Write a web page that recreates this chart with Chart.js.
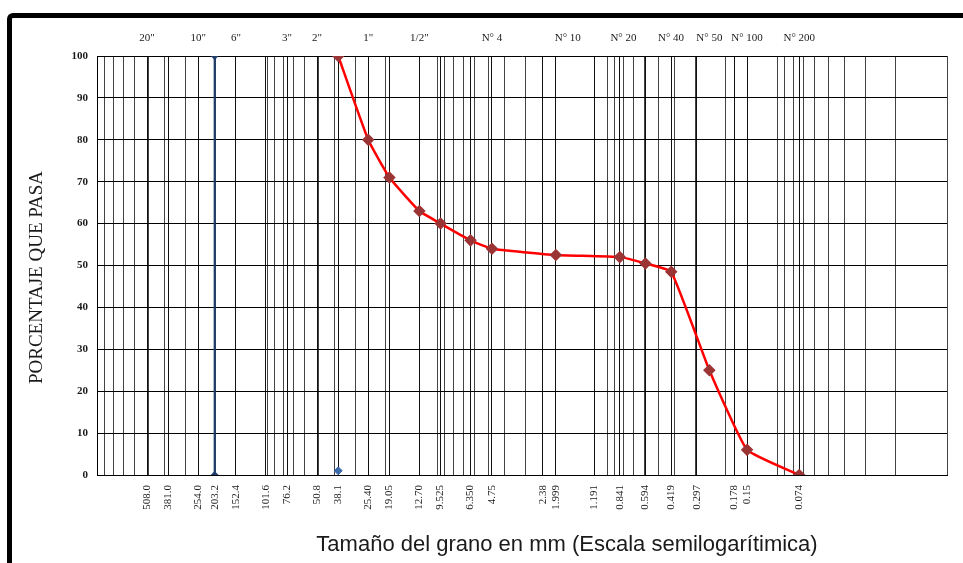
<!DOCTYPE html>
<html>
<head>
<meta charset="utf-8">
<script src="https://cdn.jsdelivr.net/npm/chart.js@4.4.1/dist/chart.umd.min.js"></script>
<style>
  body { margin: 0; background: #fff; overflow: hidden; }
  .marco { position: absolute; left: 7px; top: 13px; width: 1000px; height: 600px;
           border-top: 5px solid #000; border-left: 5px solid #000; border-top-left-radius: 6px; }
  canvas { position: absolute; left: 0; top: 0; }
</style>
</head>
<body>
<div class="marco"></div>
<canvas id="granulometria" width="963" height="563"></canvas>
<script>
// Curva granulometrica (tamaño en mm, porcentaje que pasa)
const tamanos = [38.1, 25.4, 19.05, 12.7, 9.525, 6.35, 4.75, 2.0, 0.841, 0.594, 0.419, 0.25, 0.15, 0.074];
const pasa = [100, 80, 71, 63, 60, 56, 54, 52.5, 52, 50.5, 48.5, 25, 6, 0];

// linea azul vertical y punto azul
const lineaAzulX = [203.2, 203.2];
const lineaAzulY = [0, 100];
const puntoAzulX = [38.1];
const puntoAzulY = [1];

// tamices abajo (valor y texto)
const tamicesMm = [508, 381, 254, 203.2, 152.4, 101.6, 76.2, 50.8, 38.1, 25.4, 19.05, 12.7, 9.525, 6.35, 4.75, 2.38, 1.999, 1.191, 0.841, 0.594, 0.419, 0.297, 0.178, 0.15, 0.074];
const tamicesTexto = ["508.0", "381.0", "254.0", "203.2", "152.4", "101.6", "76.2", "50.8", "38.1", "25.40", "19.05", "12.70", "9.525", "6.350", "4.75", "2.38", "1.999", "1.191", "0.841", "0.594", "0.419", "0.297", "0.178", "0.15", "0.074"];

// nombres de tamices arriba
const nombresMm = [508, 254, 152.4, 76.2, 50.8, 25.4, 12.7, 4.75, 1.7, 0.8, 0.42, 0.25, 0.15, 0.074];
const nombresTexto = ['20"', '10"', '6"', '3"', '2"', '1"', '1/2"', 'N° 4', 'N° 10', 'N° 20', 'N° 40', 'N° 50', 'N° 100', 'N° 200'];

const yTicks = [0, 10, 20, 30, 40, 50, 60, 70, 80, 90, 100];

const tituloX = "Tamaño del grano en mm (Escala semilogarítimica)";
const tituloY = "PORCENTAJE QUE PASA";

// lineas de la escala log (1..9 x 10^k) mas los tamices
const lineasLog = [1000];
for (let k = -2; k <= 2; k++) {
  for (let m = 1; m <= 9; m++) {
    lineasLog.push(+(m * Math.pow(10, k)).toPrecision(3));
  }
}
const todasLineas = lineasLog.concat(tamicesMm).sort((a, b) => b - a);

function puntos(xs, ys) {
  const out = [];
  for (let i = 0; i < xs.length; i++) out.push({ x: xs[i], y: ys[i] });
  return out;
}

const serif = '"Liberation Serif", "Times New Roman", serif';

const titulos = {
  id: 'titulos',
  afterDraw(chart) {
    const ctx = chart.ctx;
    const a = chart.chartArea;
    ctx.save();
    ctx.fillStyle = '#1a1a1a';
    ctx.textAlign = 'center';
    ctx.textBaseline = 'middle';
    ctx.font = '22px "Liberation Sans", Arial, sans-serif';
    ctx.fillText(tituloX, (a.left + a.right) / 2 + 45, a.bottom + 70);
    ctx.translate(37, (a.top + a.bottom) / 2 + 12);
    ctx.rotate(-Math.PI / 2);
    ctx.font = '19px ' + serif;
    ctx.fillText(tituloY, 0, 0);
    ctx.restore();
  }
};

// quitar el relleno que Chart.js deja para las etiquetas de los extremos
function sinRelleno(s) {
  s.paddingLeft = 0;
  s.paddingRight = 0;
}

const canvas = document.querySelector('#granulometria');
new Chart(canvas, {
  type: 'line',
  data: {
    datasets: [
      {
        data: puntos(tamanos, pasa),
        borderColor: '#ff0000',
        borderWidth: 2.5,
        tension: 0.12,
        pointStyle: 'rectRot',
        pointRadius: 4.5,
        pointBackgroundColor: '#9b3434',
        pointBorderColor: '#9b3434',
        xAxisID: 'x'
      },
      {
        data: puntos(lineaAzulX, lineaAzulY),
        borderColor: '#1f3e6e',
        borderWidth: 2,
        pointStyle: 'rectRot',
        pointRadius: 2.5,
        pointBackgroundColor: '#1f3e6e',
        pointBorderColor: '#1f3e6e',
        xAxisID: 'x'
      },
      {
        data: puntos(puntoAzulX, puntoAzulY),
        showLine: false,
        pointStyle: 'rectRot',
        pointRadius: 4,
        pointBackgroundColor: '#3d6aa8',
        pointBorderColor: '#3d6aa8',
        xAxisID: 'x'
      }
    ]
  },
  options: {
    responsive: false,
    animation: false,
    layout: { padding: { left: 0, right: 16, top: 0, bottom: 0 } },
    plugins: { legend: { display: false }, tooltip: { enabled: false } },
    scales: {
      x: {
        type: 'logarithmic',
        position: 'bottom',
        reverse: true,
        min: 0.01,
        max: 1000,
        afterBuildTicks: s => { s.ticks = todasLineas.map(v => ({ value: v })); },
        afterFit: s => { s.height = 88; sinRelleno(s); },
        grid: {
          drawTicks: false,
          lineWidth: 1,
          color: ctx => (tamicesMm.includes(ctx.tick && ctx.tick.value) ? '#111' : '#444')
        },
        border: { color: '#000', width: 1 },
        ticks: {
          autoSkip: false,
          minRotation: 90,
          maxRotation: 90,
          padding: 10,
          color: '#1a1a1a',
          font: { family: serif, size: 11 },
          callback: function (value) {
            const i = tamicesMm.indexOf(value);
            return i >= 0 ? tamicesTexto[i] : '';
          }
        }
      },
      xTop: {
        type: 'logarithmic',
        position: 'top',
        reverse: true,
        min: 0.01,
        max: 1000,
        afterBuildTicks: s => { s.ticks = nombresMm.map(v => ({ value: v })); },
        afterFit: s => { s.height = 56; sinRelleno(s); },
        grid: { display: false, drawTicks: false },
        border: { display: false },
        ticks: {
          autoSkip: false,
          maxRotation: 0,
          minRotation: 0,
          padding: 11,
          color: '#1a1a1a',
          font: { family: serif, size: 11 },
          callback: function (value, index) { return nombresTexto[index]; }
        }
      },
      y: {
        min: 0,
        max: 100,
        afterBuildTicks: s => { s.ticks = yTicks.map(v => ({ value: v })); },
        afterFit: s => { s.width = 97; },
        grid: { color: '#000', lineWidth: 1, drawTicks: false },
        border: { color: '#000', width: 1 },
        ticks: {
          padding: 9,
          color: '#1a1a1a',
          font: { family: serif, size: 11, weight: 'bold' }
        }
      }
    }
  },
  plugins: [titulos]
});
</script>
</body>
</html>
